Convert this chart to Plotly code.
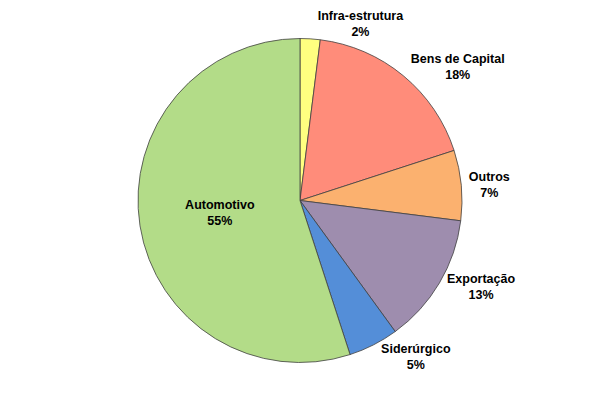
import plotly.graph_objects as go

labels = ["Infra-estrutura", "Bens de Capital", "Outros", "Exportação", "Siderúrgico", "Automotivo"]
values = [2, 18, 7, 13, 5, 55]
colors = ["#FFFF80", "#FF8C7A", "#FBB16F", "#9E8DAE", "#548ED8", "#B3DC88"]
positions = ["outside", "outside", "outside", "outside", "outside", "inside"]

fig = go.Figure(go.Pie(
    labels=labels,
    values=values,
    sort=False,
    direction="clockwise",
    rotation=0,
    marker=dict(colors=colors, line=dict(color="#404040", width=0.8)),
    texttemplate="<b>%{label}<br>%{percent:.0%}</b>",
    textposition=positions,
    insidetextorientation="horizontal",
    textfont=dict(family="Liberation Sans, Arial, sans-serif", size=12.5, color="black"),
    showlegend=False,
    hoverinfo="label+percent",
    domain=dict(x=[130/600, 454/600], y=[41.5/396, 365.5/396]),
))

fig.update_layout(
    width=600, height=396,
    margin=dict(l=0, r=0, t=0, b=0),
    paper_bgcolor="white",
    plot_bgcolor="white",
    showlegend=False,
)
fig.update_traces(automargin=False)

fig.write_html("out.html")
